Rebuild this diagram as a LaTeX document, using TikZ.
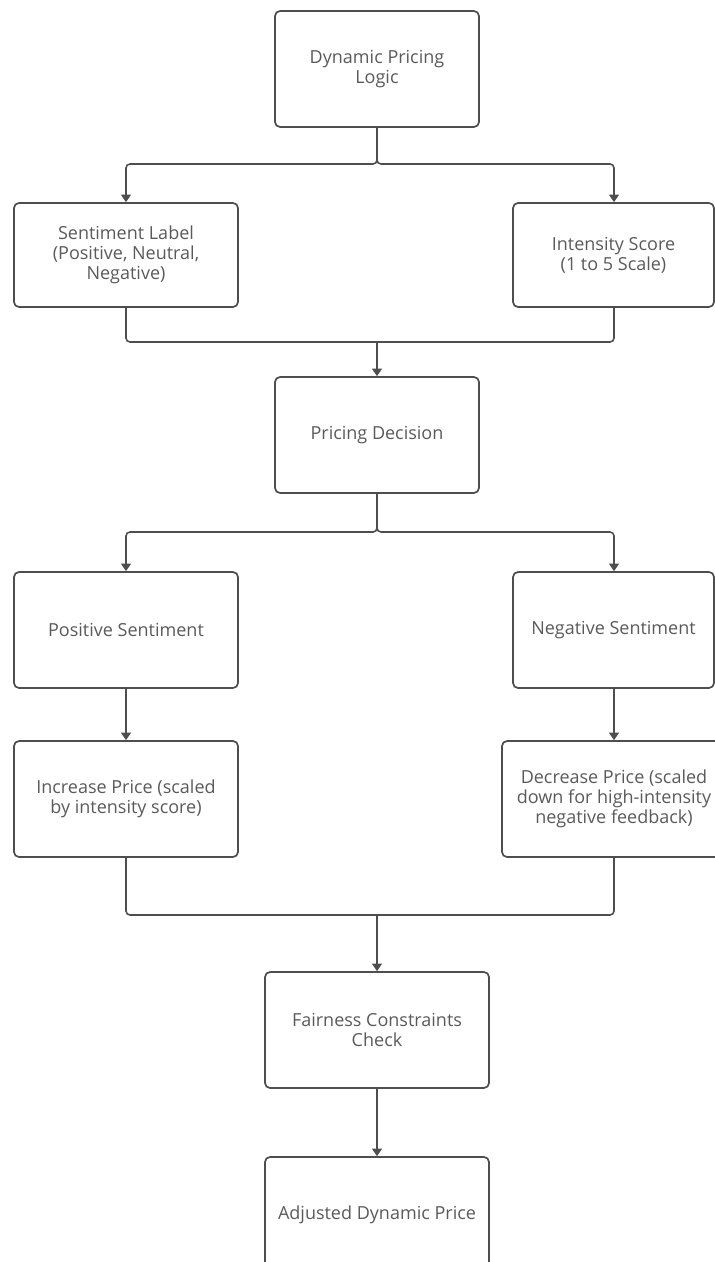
\documentclass[tikz,border=0pt]{standalone}
\usepackage{fontspec}
\setmainfont{Open Sans}
\usetikzlibrary{arrows.meta}
\definecolor{boxline}{HTML}{4E4E4E}
\definecolor{txt}{HTML}{5A5A5A}
\begin{document}
\begin{tikzpicture}[x=0.5pt,y=-0.5pt,
  box/.style={draw=boxline, line width=0.85pt, rounded corners=2.5pt, align=center,
    text=txt, font=\fontsize{9}{10}\selectfont, inner sep=0pt},
  bw/.style={minimum width=#1*0.5pt},
  bh/.style={minimum height=#1*0.5pt},
  conn/.style={draw=boxline, line width=0.8pt, rounded corners=2pt},
  arr/.style={conn, -{Triangle[width=5pt,length=3.8pt]}}
]
\path[use as bounding box] (0,0) rectangle (715,1262);
\clip (0,0) rectangle (715,1262);

\node[box, bw=204, bh=116] (top) at (377,69) {Dynamic Pricing\\Logic};
\node[box, bw=224, bh=104] (sent) at (126,255) {Sentiment Label\\(Positive, Neutral,\\Negative)};
\node[box, bw=201, bh=104] (inten) at (613.5,255) {Intensity Score\\(1 to 5 Scale)};
\node[box, bw=204, bh=116] (price) at (377,435) {Pricing Decision};
\node[box, bw=224, bh=116] (pos) at (126,630) {Positive Sentiment};
\node[box, bw=201, bh=116] (neg) at (613.5,630) {Negative Sentiment};
\node[box, bw=224, bh=116] (inc) at (126,799) {Increase Price (scaled\\by intensity score)};
\node[box, bw=224, bh=116] (dec) at (614,799) {Decrease Price (scaled\\down for high-intensity\\negative feedback)};
\node[box, bw=224, bh=116] (fair) at (377,1030) {Fairness Constraints\\Check};
\node[box, bw=224, bh=116] (adj) at (377,1215) {Adjusted Dynamic Price};

\coordinate (s1) at (377,164);
\coordinate (m1) at (377,342);
\coordinate (s2) at (377,532);
\coordinate (m2) at (377,915);

\draw[arr] (top.south) -- (s1) -| (sent.north);
\draw[arr] (top.south) -- (s1) -| (inten.north -| 614,0);
\draw[conn] (sent.south) |- (m1);
\draw[conn] (inten.south -| 614,0) |- (m1);
\draw[arr] (m1) -- (price.north);
\draw[arr] (price.south) -- (s2) -| (pos.north);
\draw[arr] (price.south) -- (s2) -| (neg.north -| 614,0);
\draw[arr] (pos.south) -- (inc.north);
\draw[arr] (neg.south -| 614,0) -- (dec.north);
\draw[conn] (inc.south) |- (m2);
\draw[conn] (dec.south) |- (m2);
\draw[arr] (m2) -- (fair.north);
\draw[arr] (fair.south) -- (adj.north);
\end{tikzpicture}
\end{document}
